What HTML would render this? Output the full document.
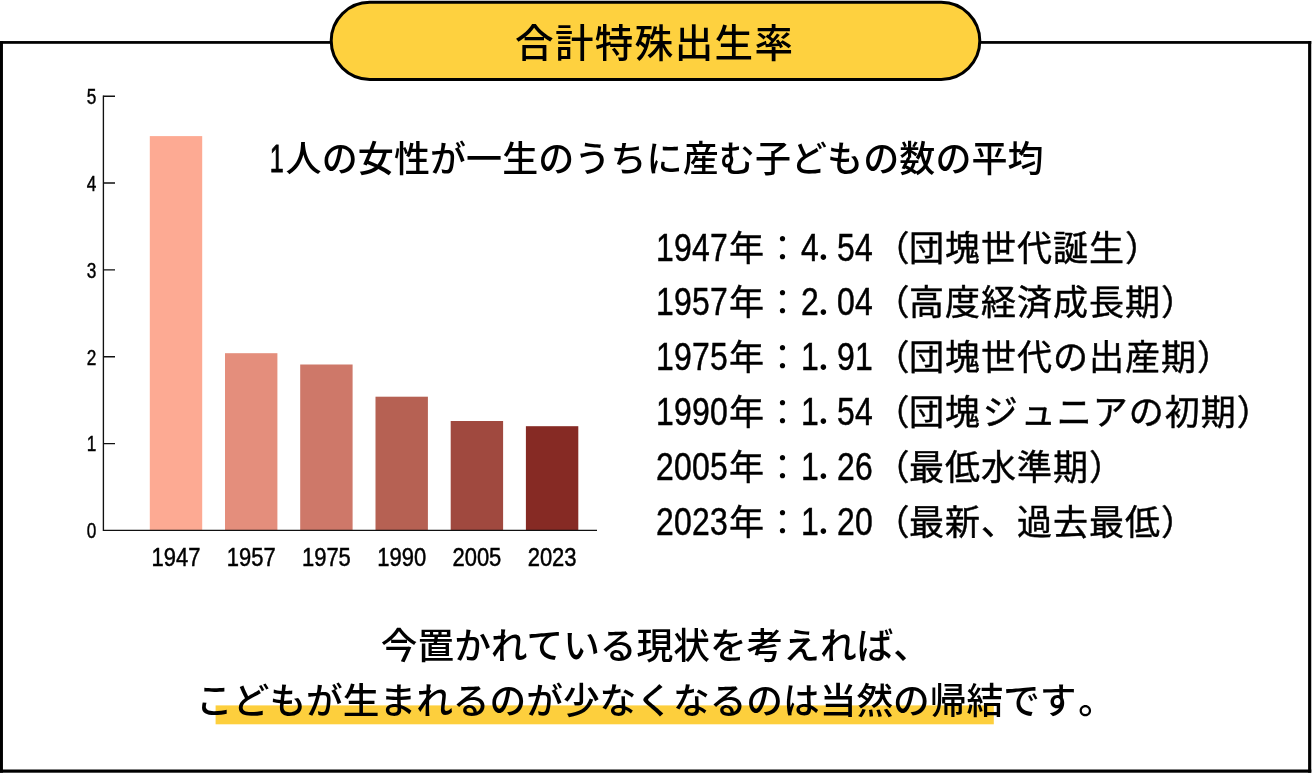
<!DOCTYPE html>
<html lang="ja">
<head>
<meta charset="utf-8">
<title>合計特殊出生率</title>
<style>
html,body{margin:0;padding:0;background:#fff;}
body{width:1312px;height:779px;position:relative;overflow:hidden;color:#000;
  font-family:"Liberation Sans","Noto Sans CJK JP",sans-serif;
  text-spacing-trim:space-all;-webkit-font-smoothing:antialiased;}
.title{z-index:2;position:absolute;left:330px;top:3.5px;width:652px;height:80px;margin:0;text-align:center;font-weight:500;font-size:38.5px;letter-spacing:1.4px;text-indent:-2.6px;line-height:80px;white-space:nowrap;}
.lead{position:absolute;left:270px;top:132px;margin:0;font-weight:500;font-size:36px;letter-spacing:.1px;line-height:56px;white-space:nowrap;}
.lead .d{display:inline-block;width:15.6px;margin-left:-3.2px;margin-right:3.2px;letter-spacing:0;text-align:center;font-weight:400;font-size:38px;line-height:1;transform:scaleX(.66);-webkit-text-stroke:.9px #000;}
.list{position:absolute;left:657px;top:221.6px;margin:0;padding:0;list-style:none;font-weight:400;-webkit-text-stroke:.45px #000;font-size:35px;letter-spacing:1px;line-height:54.9px;white-space:nowrap;}
.list li{margin:0;padding:0;height:54.9px;}
.c{-webkit-text-stroke:0;}
.o{position:relative;left:1.5px;}
.y,.v{display:inline-block;position:relative;font-weight:400;font-size:38px;letter-spacing:.3px;line-height:0;transform:scaleX(.84);transform-origin:0 50%;margin-right:-13.72px;-webkit-text-stroke:.5px #000;}
.y{left:-1.2px;}
.v{left:-.4px;}
.dot{display:inline-block;position:relative;left:-5.2px;top:-.8px;width:21.13px;margin-right:.3px;letter-spacing:0;text-align:center;font-family:"Noto Sans CJK JP",sans-serif;font-weight:500;font-size:36px;line-height:0;transform:scaleX(1.19);-webkit-text-stroke:0;}
.k{margin-left:1.7px;margin-right:2px;}
.p{margin-left:1.8px;margin-right:-1.8px;}
.foot{position:absolute;left:-1.4px;width:1312px;margin:0;text-align:center;font-weight:500;font-size:36.7px;line-height:56px;white-space:nowrap;}
.f1{top:619px;left:-.6px;}
.f2{top:674px;}
svg.chart{position:absolute;left:0;top:0;}
svg text{font-family:"Liberation Sans",sans-serif;fill:#000;}
</style>
</head>
<body>
<h1 class="title">合計特殊出生率</h1>

<svg class="chart" width="1312" height="779" viewBox="0 0 1312 779">
  <g id="frame" fill="#000">
    <rect x="0" y="41.05" width="1311.25" height="2.75"/>
    <rect x="0" y="769.5" width="1311.25" height="3.2"/>
    <rect x="0" y="41.05" width="2.95" height="731.65"/>
    <rect x="1308.1" y="41.05" width="3.15" height="731.65"/>
  </g>
  <rect id="pill" x="331.2" y="2.3" width="648.6" height="77.1" rx="38.55" ry="38.55" fill="#fed13f" stroke="#000" stroke-width="3"/>
  <rect id="marker" x="215.6" y="705.4" width="778.2" height="18.9" fill="#fdcf3d"/>
  <g id="bars">
    <rect x="149.8" y="136.1" width="52.4" height="394.3" fill="#fdaa93"/>
    <rect x="225.0" y="353.2" width="52.4" height="177.2" fill="#e48e7c"/>
    <rect x="300.2" y="364.5" width="52.4" height="165.9" fill="#ce7869"/>
    <rect x="375.5" y="396.7" width="52.4" height="133.7" fill="#b66153"/>
    <rect x="450.7" y="421.0" width="52.4" height="109.4" fill="#a0493f"/>
    <rect x="525.9" y="426.2" width="52.4" height="104.2" fill="#862a24"/>
  </g>
  <g id="axes" stroke="#111" stroke-width="1.35" fill="none">
    <path d="M103.4 95.4V530.4H597"/>
    <path d="M103.4 96.2H115M103.4 183H115M103.4 269.9H115M103.4 356.7H115M103.4 443.6H115"/>
  </g>
  <g id="ylabels" font-size="21.5" text-anchor="middle" stroke="#000" stroke-width=".45">
    <text transform="translate(91.5 104) scale(.8 1)">5</text>
    <text transform="translate(91.5 190.8) scale(.8 1)">4</text>
    <text transform="translate(91.5 277.7) scale(.8 1)">3</text>
    <text transform="translate(91.5 364.5) scale(.8 1)">2</text>
    <text transform="translate(91.5 451.4) scale(.8 1)">1</text>
    <text transform="translate(91.5 538.2) scale(.8 1)">0</text>
  </g>
  <g id="xlabels" font-size="26" text-anchor="middle" stroke="#000" stroke-width=".5">
    <text transform="translate(176 566.4) scale(.845 1)">1947</text>
    <text transform="translate(251.2 566.4) scale(.845 1)">1957</text>
    <text transform="translate(326.4 566.4) scale(.845 1)">1975</text>
    <text transform="translate(401.7 566.4) scale(.845 1)">1990</text>
    <text transform="translate(476.9 566.4) scale(.845 1)">2005</text>
    <text transform="translate(552.1 566.4) scale(.845 1)">2023</text>
  </g>
</svg>

<p class="lead"><span class="d">1</span>人の女性が一生のうちに産む子どもの数の平均</p>

<ul class="list">
  <li><span class="y">1947</span>年<span class="c">：</span><span class="v">4<span class="dot">.</span>54</span><span class="o">（</span>団塊世代誕生）</li>
  <li><span class="y">1957</span>年<span class="c">：</span><span class="v">2<span class="dot">.</span>04</span><span class="o">（</span>高度経済成長期）</li>
  <li><span class="y">1975</span>年<span class="c">：</span><span class="v">1<span class="dot">.</span>91</span><span class="o">（</span>団塊世代の出産期）</li>
  <li><span class="y">1990</span>年<span class="c">：</span><span class="v">1<span class="dot">.</span>54</span><span class="o">（</span>団塊<span class="k">ジ</span>ュニアの初期）</li>
  <li><span class="y">2005</span>年<span class="c">：</span><span class="v">1<span class="dot">.</span>26</span><span class="o">（</span>最低水準期）</li>
  <li><span class="y">2023</span>年<span class="c">：</span><span class="v">1<span class="dot">.</span>20</span><span class="o">（</span>最新、過去最低）</li>
</ul>

<p class="foot f1">今置かれている現状を考えれば、</p>
<p class="foot f2">こどもが生まれるのが少なくなるのは当然の帰結です<span class="p">。</span></p>
</body>
</html>
